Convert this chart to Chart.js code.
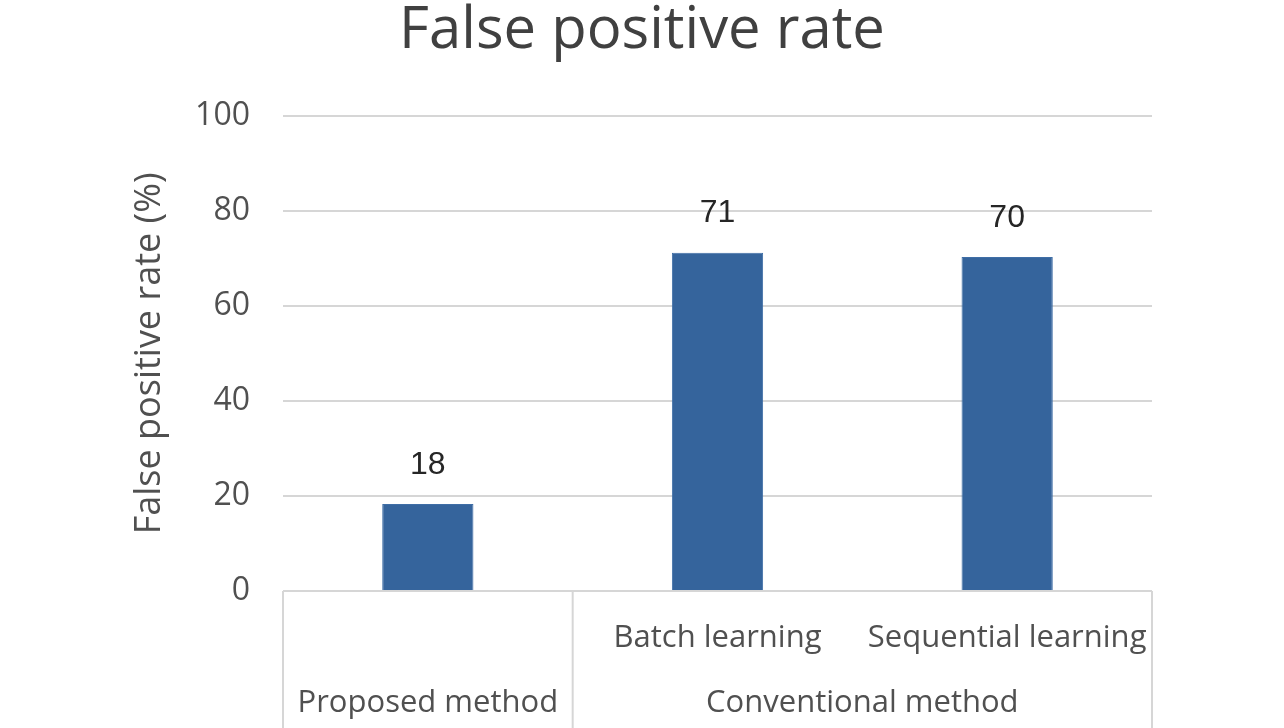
<!DOCTYPE html>
<html>
<head>
<meta charset="utf-8">
<script src="https://cdn.jsdelivr.net/npm/chart.js@4.4.1/dist/chart.umd.min.js"></script>
<style>
  html, body { margin: 0; padding: 0; background: #fff; overflow: hidden; }
  #wrap { width: 1284px; height: 728px; }
</style>
</head>
<body>
<div id="wrap"><canvas id="fprChart"></canvas></div>
<script>
// values
const subLabels = ['', 'Batch learning', 'Sequential learning'];
const groupLabels = ['Proposed method', 'Conventional method'];
const groupSizes = [1, 2];
const fprValues = [18.3, 71.2, 70.3];
const yTickStep = 20;
const yMax = 100;

const FONT = "'Open Sans', 'Noto Sans', sans-serif";
const TEXT = '#505050';
const LINE = '#d6d6d6';

// draws bar value labels, the two-row category axis and its separators
const axisPlugin = {
    id: 'axisPlugin',
    afterDraw(chart) {
        const ctx = chart.ctx;
        const area = chart.chartArea;
        const xs = chart.scales.x;
        const bottom = chart.height;

        ctx.save();
        // values over bars
        ctx.font = "32px 'Liberation Sans', Arial, sans-serif";
        ctx.fillStyle = '#262626';
        ctx.textAlign = 'center';
        ctx.textBaseline = 'middle';
        chart.getDatasetMeta(0).data.forEach((bar, i) => {
            ctx.fillText(Math.round(fprValues[i]), bar.x, bar.y - 39);
        });

        // first row: sub categories
        ctx.font = '31px ' + FONT;
        ctx.fillStyle = TEXT;
        subLabels.forEach((lbl, i) => {
            if (lbl) ctx.fillText(lbl, xs.getPixelForTick(i), 638);
        });

        // separators + group labels
        const half = (xs.getPixelForTick(1) - xs.getPixelForTick(0)) / 2;
        ctx.strokeStyle = LINE;
        ctx.lineWidth = 2;
        let start = 0;
        const edges = [area.left];
        groupLabels.forEach((g, gi) => {
            const end = start + groupSizes[gi] - 1;
            const cx = (xs.getPixelForTick(start) + xs.getPixelForTick(end)) / 2;
            ctx.fillText(g, cx, 703);
            edges.push(xs.getPixelForTick(end) + half);
            start = end + 1;
        });
        edges.forEach(x => {
            ctx.beginPath();
            ctx.moveTo(x, area.bottom);
            ctx.lineTo(x, bottom);
            ctx.stroke();
        });
        ctx.restore();
    }
};

new Chart(document.getElementById('fprChart'), {
    type: 'bar',
    data: {
        labels: subLabels.map(l => l || groupLabels[0]),
        datasets: [{
            label: 'False positive rate',
            data: fprValues,
            backgroundColor: '#35649c',
            borderColor: '#3f6ea6',
            borderWidth: 1,
            categoryPercentage: 1,
            barPercentage: 0.315
        }]
    },
    options: {
        responsive: true,
        maintainAspectRatio: false,
        animation: false,
        layout: { padding: { left: 0, right: 0, top: 0, bottom: 137 } },
        plugins: {
            legend: { display: false },
            tooltip: { enabled: false },
            title: {
                display: true,
                text: 'False positive rate',
                color: '#404040',
                font: { family: FONT, size: 58, weight: 'normal', lineHeight: 1.1 },
                padding: { top: 0, bottom: 52 }
            }
        },
        scales: {
            x: {
                afterFit: s => { s.height = 0; },
                grid: { display: false },
                border: { display: false },
                ticks: { display: false }
            },
            y: {
                min: 0,
                max: yMax,
                afterFit: s => { s.width = 283; },
                ticks: {
                    stepSize: yTickStep,
                    padding: 33,
                    color: TEXT,
                    font: { family: FONT, size: 32 }
                },
                grid: { color: LINE, lineWidth: 2, drawTicks: false },
                border: { display: false },
                title: {
                    display: true,
                    text: 'False positive rate (%)',
                    color: TEXT,
                    font: { family: FONT, size: 36 },
                    padding: { top: 128, bottom: 0 }
                }
            },
            // empty right-hand axis: keeps the plot off the right edge
            // while the title stays centred on the whole canvas
            yRight: {
                position: 'right',
                afterFit: s => { s.width = 132; },
                ticks: { display: false },
                grid: { display: false },
                border: { display: false }
            }
        }
    },
    plugins: [axisPlugin]
});
</script>
</body>
</html>
